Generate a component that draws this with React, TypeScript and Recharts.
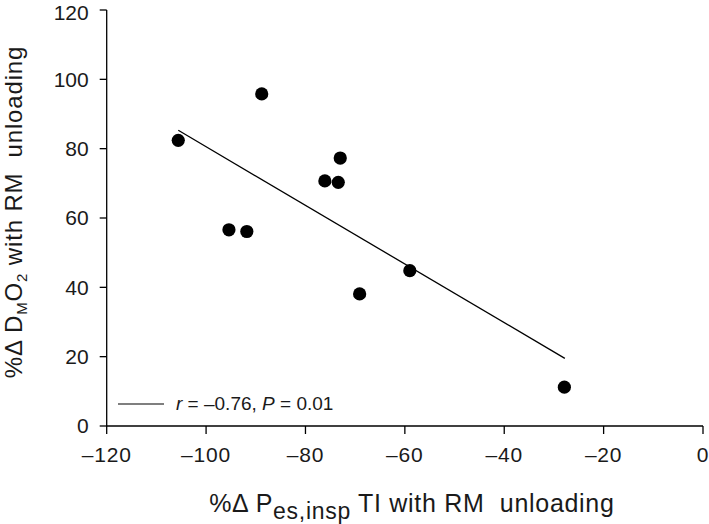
import { ScatterChart, Scatter, XAxis, YAxis, Legend } from "recharts";

document.body.style.margin = "0";

const pesChange = [-105.6, -88.8, -95.4, -91.8, -76.1, -73.4, -73.0, -69.1, -59.0, -27.9];
const dmo2Change = [82.4, 95.8, 56.6, 56.1, 70.7, 70.3, 77.3, 38.1, 44.8, 11.2];
const fitX = [-105.6, -27.8];
const fitY = [85.3, 19.5];
const xTicks = [-120, -100, -80, -60, -40, -20, 0];
const yTicks = [0, 20, 40, 60, 80, 100, 120];

const points = pesChange.map((x, i) => ({ x, y: dmo2Change[i] }));
const fitLine = fitX.map((x, i) => ({ x, y: fitY[i] }));

const font = "'Liberation Sans', Arial, sans-serif";
const ink = "#1a1a1a";

const dash = (v: number) => String(v).replace("-", "\u2013");

const Dot = ({ cx, cy }: any) => <circle cx={cx} cy={cy} r={6.6} fill="#000" />;

const XTitle = ({ viewBox }: any) => {
  const cx = viewBox.x + viewBox.width / 2 + 7;
  const by = viewBox.y + 86;
  return (
    <text x={cx} y={by} textAnchor="middle" fontSize={25} letterSpacing={0.7} fill={ink} fontFamily={font}>
      %Δ P<tspan dy={7} fontSize={23}>es,insp</tspan>
      <tspan dy={-7}>{" TI with RM\u00a0\u00a0unloading"}</tspan>
    </text>
  );
};

const YTitle = ({ viewBox }: any) => {
  return (
    <text
      transform={`translate(${viewBox.x + 22},212) rotate(-90)`}
      textAnchor="middle"
      fontSize={24}
      letterSpacing={0.85}
      fill={ink}
      fontFamily={font}
    >
      %Δ D<tspan dy={5} fontSize={15}>M</tspan>
      <tspan dy={-5}>O</tspan>
      <tspan dy={5} fontSize={15}>2</tspan>
      <tspan dy={-5}>{" with RM\u00a0\u00a0unloading"}</tspan>
    </text>
  );
};

const LegendBox = () => (
  <div style={{ display: "flex", alignItems: "center", fontFamily: font, fontSize: 19, color: ink }}>
    <svg width={46} height={10} style={{ marginRight: 12 }}>
      <line x1={0} y1={5} x2={46} y2={5} stroke="#000" strokeWidth={1.2} />
    </svg>
    <span>
      <i>r</i> = –0.76, <i>P</i> = 0.01
    </span>
  </div>
);

export default function App() {
  return (
    <div style={{ background: "#fff", width: 709, height: 524 }}>
      <ScatterChart width={709} height={524} margin={{ top: 10, right: 6, bottom: 0, left: 0 }}>
        <XAxis
          type="number"
          dataKey="x"
          domain={[-120, 0]}
          ticks={xTicks}
          tickFormatter={dash}
          height={98}
          axisLine={{ stroke: "#000", strokeWidth: 1.3 }}
          tickLine={{ stroke: "#000", strokeWidth: 1.3 }}
          tickSize={8}
          tickMargin={13}
          tick={{ fill: ink, fontSize: 21, fontFamily: font, letterSpacing: 0.8 }}
          label={{ content: XTitle }}
        />
        <YAxis
          type="number"
          dataKey="y"
          domain={[0, 120]}
          ticks={yTicks}
          width={106.7}
          axisLine={{ stroke: "#000", strokeWidth: 1.3 }}
          tickLine={{ stroke: "#000", strokeWidth: 1.3 }}
          tickSize={7}
          tickMargin={11}
          tick={{ fill: ink, fontSize: 21, fontFamily: font }}
          label={{ content: YTitle }}
        />
        <Legend
          layout="horizontal"
          verticalAlign="middle"
          align="center"
          content={LegendBox}
          wrapperStyle={{ left: 118, top: 393, width: 280 }}
        />
        <Scatter
          data={fitLine}
          line={{ stroke: "#000", strokeWidth: 1.3 }}
          shape={() => <g />}
          isAnimationActive={false}
          legendType="none"
        />
        <Scatter data={points} shape={Dot} isAnimationActive={false} />
      </ScatterChart>
    </div>
  );
}
